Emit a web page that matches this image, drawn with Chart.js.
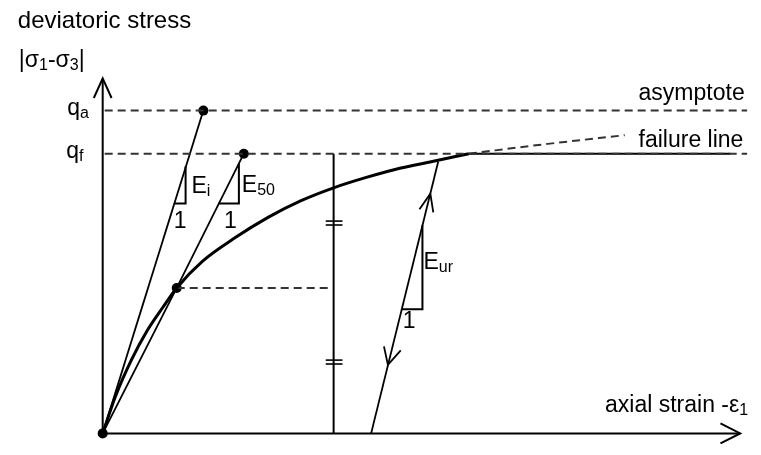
<!DOCTYPE html>
<html>
<head>
<meta charset="utf-8">
<script src="https://cdn.jsdelivr.net/npm/chart.js@4"></script>
<style>
  body { margin: 0; background: #fff; }
  canvas { display: block; }
</style>
</head>
<body>
<canvas id="chart" width="761" height="455"></canvas>
<script>
// strain on x (arbitrary units), deviatoric stress on y (normalised, qf = 1)
const qf = 1.0;
const qa = 1.154;

const curveStrain = [0, 0.13, 0.29, 0.45, 0.61, 0.75, 1.01, 1.34, 1.68, 2.01, 2.34, 2.68, 3.01, 3.34, 3.71];
const curveStress = [0, 0.133, 0.262, 0.367, 0.451, 0.52, 0.615, 0.699, 0.773, 0.832, 0.878, 0.916, 0.948, 0.972, 1.0];

// dashed continuation of the hyperbola towards the asymptote
const extStrain = [3.71, 4.51, 5.29];
const extStress = [1.0, 1.035, 1.066];

// tangent / secant moduli
const eiStrain = [0, 1.02];
const eiStress = [0, qa];
const e50Strain = [0, 0.75, 1.43];
const e50Stress = [0, 0.52, qf];

// unloading / reloading branch
const urStrain = [2.72, 3.40];
const urStress = [0, 0.972];

const dotStrain = [0, 0.75, 1.02, 1.43];
const dotStress = [0, 0.52, qa, qf];

// slope triangles
const eiTriX = [0.73, 0.84, 0.84];
const eiTriY = [0.822, 0.822, 0.955];
const e50TriX = [1.17, 1.38, 1.38];
const e50TriY = [0.822, 0.822, 0.965];
const urTriX = [3.03, 3.24, 3.24];
const urTriY = [0.444, 0.444, 0.744];

// arrow heads on the unload/reload line
const upArrowX = [3.21, 3.32, 3.35];
const upArrowY = [0.801, 0.857, 0.790];
const downArrowX = [2.85, 2.89, 3.02];
const downArrowY = [0.311, 0.245, 0.297];

const refStrain = 2.34;   // vertical reference line
const xEnd = 6.53;

const pts = (xs, ys) => xs.map((x, i) => ({ x: x, y: ys[i] }));

function line(data, extra) {
  return Object.assign({
    data: data,
    showLine: true,
    borderColor: '#000',
    borderWidth: 2,
    pointRadius: 0,
    fill: false,
    tension: 0
  }, extra || {});
}

const dash = { borderColor: '#333', borderDash: [8, 5] };

const datasets = [
  // axes with arrows
  line([{ x: 0, y: 0 }, { x: 0, y: 1.269 }]),
  line([{ x: -0.09, y: 1.199 }, { x: 0, y: 1.269 }, { x: 0.09, y: 1.199 }]),
  line([{ x: 0, y: 0 }, { x: 6.46, y: 0 }]),
  line([{ x: 6.26, y: 0.036 }, { x: 6.46, y: 0 }, { x: 6.26, y: -0.036 }]),
  // asymptote and qf level
  line([{ x: 0.02, y: qa }, { x: xEnd, y: qa }], dash),
  line([{ x: 0.02, y: qf }, { x: xEnd, y: qf }], dash),
  // failure line
  line([{ x: 3.71, y: qf }, { x: 6.36, y: qf }]),
  // hyperbola
  line(pts(curveStrain, curveStress), { borderWidth: 3, cubicInterpolationMode: 'monotone' }),
  line(pts(extStrain, extStress), Object.assign({ cubicInterpolationMode: 'monotone' }, dash)),
  // moduli
  line(pts(eiStrain, eiStress), { borderWidth: 1.8 }),
  line(pts(e50Strain, e50Stress), { borderWidth: 1.8 }),
  line(pts(eiTriX, eiTriY)),
  line(pts(e50TriX, e50TriY)),
  // half-stress dashed line and vertical reference line
  line([{ x: 0.75, y: 0.52 }, { x: 2.31, y: 0.52 }], dash),
  line([{ x: refStrain, y: 0 }, { x: refStrain, y: qf }]),
  line([{ x: 2.26, y: 0.759 }, { x: 2.43, y: 0.759 }], { borderWidth: 1.6 }),
  line([{ x: 2.26, y: 0.745 }, { x: 2.43, y: 0.745 }], { borderWidth: 1.6 }),
  line([{ x: 2.26, y: 0.262 }, { x: 2.43, y: 0.262 }], { borderWidth: 1.6 }),
  line([{ x: 2.26, y: 0.248 }, { x: 2.43, y: 0.248 }], { borderWidth: 1.6 }),
  // unloading / reloading
  line(pts(urStrain, urStress), { borderWidth: 1.8 }),
  line(pts(upArrowX, upArrowY), { borderWidth: 1.8 }),
  line(pts(downArrowX, downArrowY), { borderWidth: 1.8 }),
  line(pts(urTriX, urTriY)),
  // marked points
  {
    data: pts(dotStrain, dotStress),
    showLine: false,
    pointRadius: 5,
    pointBackgroundColor: '#000',
    pointBorderColor: '#000',
    pointBorderWidth: 0
  }
];

// text: [x, y, parts]; parts are [string, isSubscript]
const labels = [
  [-0.86, 1.451, [['deviatoric stress', 0]], 24],
  [-0.85, 1.311, [['|σ', 0], ['1', 1], ['-σ', 0], ['3', 1], ['|', 0]]],
  [-0.36, 1.140, [['q', 0], ['a', 1]]],
  [-0.37, 0.986, [['q', 0], ['f', 1]]],
  [5.43, 1.192, [['asymptote', 0]]],
  [5.43, 1.024, [['failure line', 0]]],
  [5.09, 0.077, [['axial strain -ε', 0], ['1', 1]]],
  [0.90, 0.860, [['E', 0], ['i', 1]]],
  [0.72, 0.734, [['1', 0]]],
  [1.41, 0.864, [['E', 0], ['50', 1]]],
  [1.23, 0.734, [['1', 0]]],
  [3.25, 0.587, [['E', 0], ['ur', 1]]],
  [3.04, 0.378, [['1', 0]]]
];

const textPlugin = {
  id: 'texts',
  afterDatasetsDraw(chart) {
    const ctx = chart.ctx;
    const sx = chart.scales.x, sy = chart.scales.y;
    ctx.save();
    ctx.fillStyle = '#000';
    ctx.textBaseline = 'alphabetic';
    labels.forEach(l => {
      let px = sx.getPixelForValue(l[0]);
      const py = sy.getPixelForValue(l[1]);
      const size = l[3] || 23;
      l[2].forEach(p => {
        ctx.font = (p[1] ? 16 : size) + 'px "Liberation Sans", Arial, sans-serif';
        ctx.fillText(p[0], px, py + (p[1] ? 3 : 0));
        px += ctx.measureText(p[0]).width;
      });
    });
    ctx.restore();
  }
};

new Chart(document.getElementById('chart').getContext('2d'), {
  type: 'scatter',
  data: { datasets: datasets },
  options: {
    responsive: false,
    animation: false,
    layout: { padding: 0 },
    plugins: { legend: { display: false }, tooltip: { enabled: false } },
    scales: {
      x: { type: 'linear', min: -0.99, max: 6.62, display: false },
      y: { type: 'linear', min: -0.0594, max: 1.5315, display: false }
    }
  },
  plugins: [textPlugin]
});
</script>
</body>
</html>
